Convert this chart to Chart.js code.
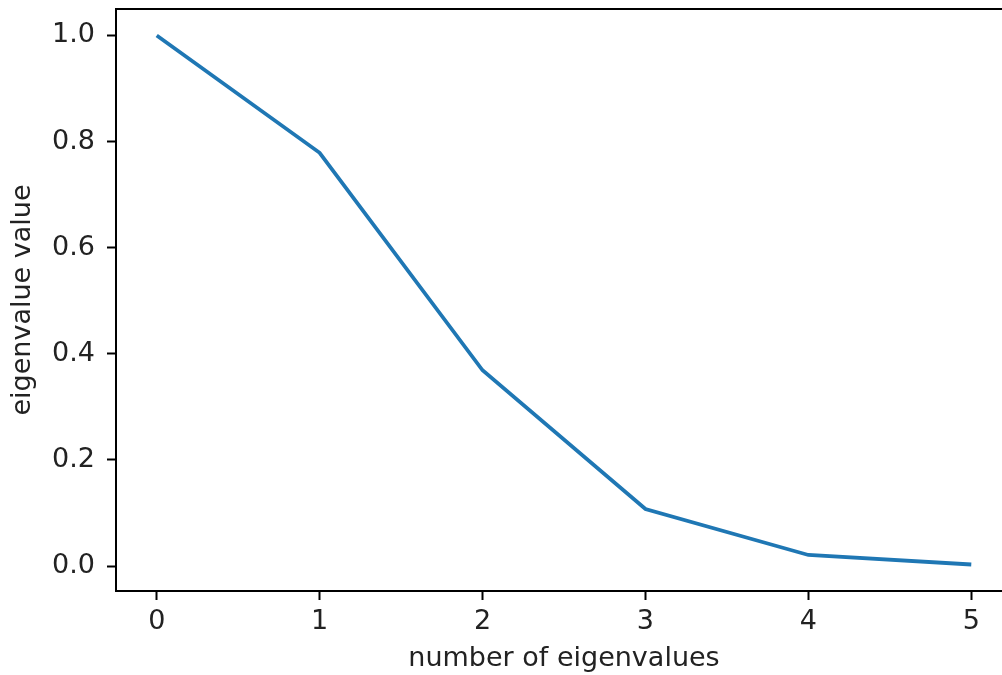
<!DOCTYPE html>
<html>
<head>
<meta charset="utf-8">
<script src="https://cdn.jsdelivr.net/npm/chart.js@4/dist/chart.umd.min.js"></script>
<style>
html,body{margin:0;padding:0;background:#fff;overflow:hidden;}
#wrap{position:absolute;left:0;top:0;width:1012px;height:675px;}
</style>
</head>
<body>
<div id="wrap"><canvas id="c" width="1012" height="675"></canvas></div>
<script>
// Data
const xValues = [0, 1, 2, 3, 4, 5];
const eigenValues = [1.0, 0.779, 0.369, 0.1075, 0.021, 0.003];
const xTicks = [0, 1, 2, 3, 4, 5];
const yTicks = [0.0, 0.2, 0.4, 0.6, 0.8, 1.0];
const xTitle = 'number of eigenvalues';
const yTitle = 'eigenvalue value';

const FONT = 'DejaVu Sans';
const TXT = '#222';
const FS = 27;

const boxPlugin = {
  id: 'box',
  afterDraw(chart) {
    const {ctx, chartArea: a} = chart;
    ctx.save();
    ctx.strokeStyle = '#000';
    ctx.lineWidth = 2;
    ctx.strokeRect(a.left, a.top, a.right - a.left, a.bottom - a.top);
    ctx.restore();
  }
};

new Chart(document.getElementById('c'), {
  type: 'line',
  data: {
    datasets: [{
      data: xValues.map((x, i) => ({x: x, y: eigenValues[i]})),
      borderColor: '#1f77b4',
      borderWidth: 3.8,
      pointRadius: 0,
      tension: 0,
      fill: false
    }]
  },
  options: {
    responsive: false,
    animation: false,
    devicePixelRatio: 1,
    layout: {padding: {top: 9, right: 0, left: 0, bottom: 0}},
    plugins: {legend: {display: false}, tooltip: {enabled: false}},
    scales: {
      x: {
        type: 'linear',
        min: -0.25,
        max: 5.25,
        afterBuildTicks(s) { s.ticks = xTicks.map(v => ({value: v})); },
        afterFit(s) { s.height = 84; s.paddingLeft = 0; s.paddingRight = 0; },
        ticks: {
          color: TXT,
          font: {family: FONT, size: FS},
          padding: 6,
          maxRotation: 0,
          callback: v => String(v)
        },
        grid: {drawOnChartArea: false, tickLength: 9, tickColor: '#000', tickWidth: 2},
        border: {display: true, color: '#000', width: 2},
        title: {display: true, text: xTitle, color: TXT, font: {family: FONT, size: FS}, padding: {top: 0, bottom: 0}}
      },
      y: {
        type: 'linear',
        min: -0.0469,
        max: 1.0499,
        afterBuildTicks(s) { s.ticks = yTicks.map(v => ({value: v})); },
        afterFit(s) { s.width = 116; s.paddingTop = 0; s.paddingBottom = 0; },
        ticks: {
          color: TXT,
          font: {family: FONT, size: FS},
          padding: 12,
          callback: v => Number(v).toFixed(1)
        },
        grid: {drawOnChartArea: false, tickLength: 9, tickColor: '#000', tickWidth: 2},
        border: {display: true, color: '#000', width: 2},
        title: {display: true, text: yTitle, color: TXT, font: {family: FONT, size: FS}, padding: {top: 7, bottom: 0}}
      }
    }
  },
  plugins: [boxPlugin]
});
</script>
</body>
</html>
